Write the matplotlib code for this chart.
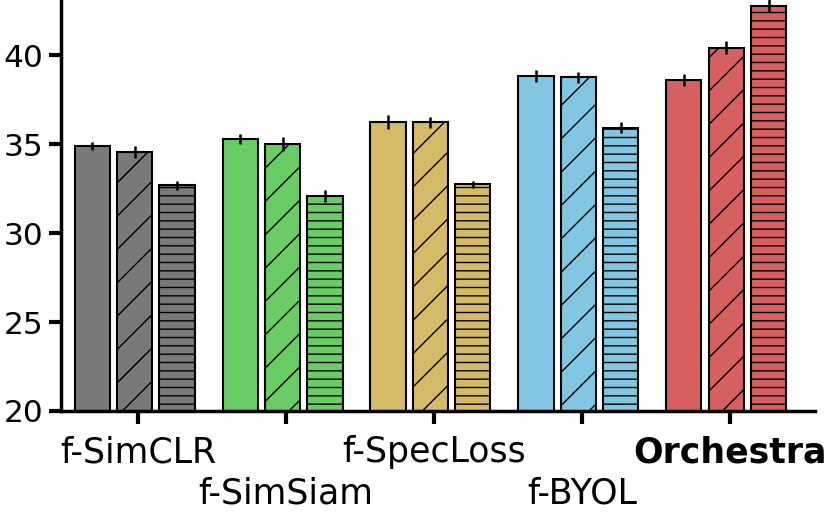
import matplotlib
matplotlib.use('Agg')
import matplotlib.pyplot as plt
import matplotlib.transforms as mtransforms
import numpy as np

methods = ['f-SimCLR', 'f-SimSiam', 'f-SpecLoss', 'f-BYOL', 'Orchestra']
colors = ['#797979', '#6ACC64', '#D5BB67', '#82C6E2', '#D65F5F']
hatches = ['', '/', '--']

# three settings per method
vals_a = [34.88, 35.28, 36.25, 38.82, 38.6]
vals_b = [34.55, 35.0, 36.22, 38.76, 40.42]
vals_c = [32.68, 32.08, 32.74, 35.93, 42.78]
err_a = [0.22, 0.28, 0.38, 0.34, 0.32]
err_b = [0.35, 0.4, 0.32, 0.3, 0.36]
err_c = [0.25, 0.32, 0.2, 0.32, 0.35]

plt.rcParams['hatch.linewidth'] = 1.0
fig = plt.figure(figsize=(8.31, 5.14), dpi=100)
ax = fig.add_axes([0.0734, 0.2004, 0.9076, 0.7996])

x = np.arange(len(methods))
width = 0.237
step = 0.287
for k, (vals, errs) in enumerate(zip([vals_a, vals_b, vals_c], [err_a, err_b, err_c])):
    ax.bar(x + (k - 1) * step, vals, width, color=colors, edgecolor='black',
           linewidth=1.5, hatch=hatches[k], zorder=2)
    ax.errorbar(x + (k - 1) * step, vals, yerr=errs, fmt='none', ecolor='black',
                elinewidth=1.8, capsize=0, zorder=3)

ax.set_ylim(20, 43.1)
ax.set_xlim(-0.497, 4.6)
ax.set_yticks([20, 25, 30, 35, 40])
ax.set_xticks(x + 0.024)
ax.set_xticklabels(methods)

ax.tick_params(axis='both', width=3, length=9, direction='out')
ax.tick_params(axis='x', labelsize=25, pad=8.5)
ax.tick_params(axis='y', labelsize=22.5)

# stagger every other label down one line
shift = mtransforms.ScaledTranslation(0, -0.415, fig.dpi_scale_trans)
for i, lab in enumerate(ax.get_xticklabels()):
    if i % 2 == 1:
        lab.set_transform(lab.get_transform() + shift)
ax.get_xticklabels()[-1].set_fontweight('bold')

for s in ['top', 'right']:
    ax.spines[s].set_visible(False)
for s in ['left', 'bottom']:
    ax.spines[s].set_linewidth(2.5)

fig.savefig('out.png', dpi=100)
